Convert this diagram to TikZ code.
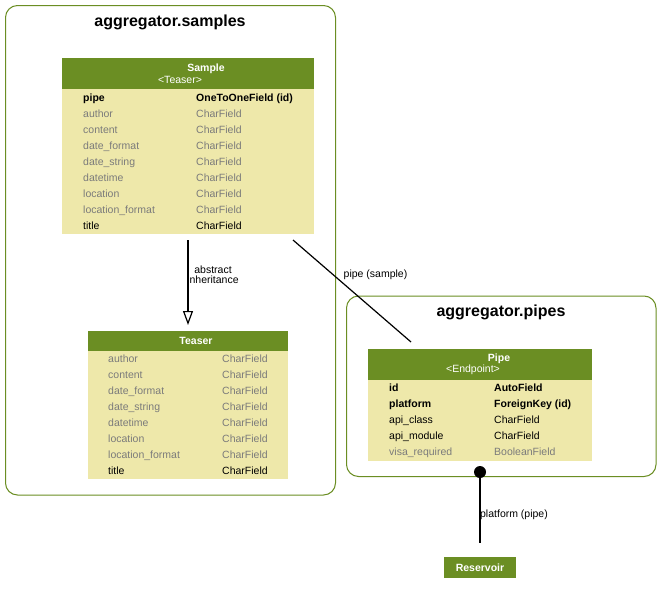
\documentclass[tikz,border=0pt]{standalone}
\usepackage{fontspec}
\setmainfont{Liberation Sans}
\usetikzlibrary{arrows.meta}
\definecolor{hdr}{HTML}{6B8E23}
\definecolor{bodyc}{HTML}{EEE8AA}
\definecolor{dim}{HTML}{7B7B7B}
\begin{document}
\begin{tikzpicture}[x=1pt,y=-1pt,
 cluster/.style={draw=hdr, line width=1pt, rounded corners=12pt},
 box/.style={inner sep=0, outer sep=0, anchor=north west},
 hdrbox/.style={box, fill=hdr},
 bodybox/.style={box, fill=bodyc},
 ctitle/.style={font=\fontsize{16}{19}\selectfont\bfseries, inner sep=0},
 htxt/.style={text=white, font=\fontsize{10.5}{12}\selectfont\bfseries, inner sep=0},
 hsub/.style={text=white, font=\fontsize{10.5}{12}\selectfont, inner sep=0},
 fld/.style={anchor=base west, inner sep=0, font=\fontsize{10.5}{12}\selectfont},
 keyf/.style={fld, font=\fontsize{10.5}{12}\selectfont\bfseries},
 grayf/.style={fld, text=dim},
 elabel/.style={font=\fontsize{10.5}{10}\selectfont, inner sep=0, align=center},
 edgeline/.style={line width=1.2pt}]

\useasboundingbox[fill=white] (0,0) rectangle (661,597);

% clusters
\draw[cluster] (5.5,5.5) rectangle (335.5,495);
\node[ctitle] (t1) at (170,22) {aggregator.samples};
\draw[cluster] (346.5,296) rectangle (656,476.5);
\node[ctitle] (t2) at (501,312) {aggregator.pipes};

% Sample
\node[hdrbox, minimum width=252pt, minimum height=31pt] (sampleh) at (62,58) {};
\node[bodybox, minimum width=252pt, minimum height=145pt] (sampleb) at (62,89) {};
\node[htxt] (sn) at (206,68.5) {Sample};
\node[hsub] (ss) at (180,79.5) {<Teaser>};
\node[keyf] (s1a) at (83,101.6) {pipe};
\node[keyf] (s1b) at (196,101.6) {OneToOneField (id)};
\node[grayf] (s2a) at (83,117.6) {author};
\node[grayf] (s2b) at (196,117.6) {CharField};
\node[grayf] (s3a) at (83,133.6) {content};
\node[grayf] (s3b) at (196,133.6) {CharField};
\node[grayf] (s4a) at (83,149.6) {date\_format};
\node[grayf] (s4b) at (196,149.6) {CharField};
\node[grayf] (s5a) at (83,165.6) {date\_string};
\node[grayf] (s5b) at (196,165.6) {CharField};
\node[grayf] (s6a) at (83,181.6) {datetime};
\node[grayf] (s6b) at (196,181.6) {CharField};
\node[grayf] (s7a) at (83,197.6) {location};
\node[grayf] (s7b) at (196,197.6) {CharField};
\node[grayf] (s8a) at (83,213.6) {location\_format};
\node[grayf] (s8b) at (196,213.6) {CharField};
\node[fld] (s9a) at (83,229.6) {title};
\node[fld] (s9b) at (196,229.6) {CharField};

% Teaser
\node[hdrbox, minimum width=200pt, minimum height=20pt] (teaserh) at (88,331) {};
\node[bodybox, minimum width=200pt, minimum height=128pt] (teaserb) at (88,351) {};
\node[htxt] (tn) at (196,340.5) {Teaser};
\node[grayf] (t1a) at (108,362.8) {author};
\node[grayf] (t1b) at (222,362.8) {CharField};
\node[grayf] (t2a) at (108,378.8) {content};
\node[grayf] (t2b) at (222,378.8) {CharField};
\node[grayf] (t3a) at (108,394.8) {date\_format};
\node[grayf] (t3b) at (222,394.8) {CharField};
\node[grayf] (t4a) at (108,410.8) {date\_string};
\node[grayf] (t4b) at (222,410.8) {CharField};
\node[grayf] (t5a) at (108,426.8) {datetime};
\node[grayf] (t5b) at (222,426.8) {CharField};
\node[grayf] (t6a) at (108,442.8) {location};
\node[grayf] (t6b) at (222,442.8) {CharField};
\node[grayf] (t7a) at (108,458.8) {location\_format};
\node[grayf] (t7b) at (222,458.8) {CharField};
\node[fld] (t8a) at (108,474.8) {title};
\node[fld] (t8b) at (222,474.8) {CharField};

% Pipe
\node[hdrbox, minimum width=224pt, minimum height=31pt] (pipeh) at (368,349) {};
\node[bodybox, minimum width=224pt, minimum height=81pt] (pipeb) at (368,380) {};
\node[htxt] (pn) at (499,358.5) {Pipe};
\node[hsub] (ps) at (473,369.5) {<Endpoint>};
\node[keyf] (p1a) at (389,391.6) {id};
\node[keyf] (p1b) at (494,391.6) {AutoField};
\node[keyf] (p2a) at (389,407.6) {platform};
\node[keyf] (p2b) at (494,407.6) {ForeignKey (id)};
\node[fld] (p3a) at (389,423.6) {api\_class};
\node[fld] (p3b) at (494,423.6) {CharField};
\node[fld] (p4a) at (389,439.6) {api\_module};
\node[fld] (p4b) at (494,439.6) {CharField};
\node[grayf] (p5a) at (389,455.6) {visa\_required};
\node[grayf] (p5b) at (494,455.6) {BooleanField};

% Reservoir
\node[hdrbox, minimum width=72pt, minimum height=21pt] (res) at (444,557) {};
\node[htxt] (rn) at (480,567.5) {Reservoir};

% edges
\draw[edgeline, shorten <=6pt, shorten >=6pt, -{Triangle[open, length=14pt, width=10pt, line width=1.2pt, fill=white]}] (sampleb.south) -- (teaserh.north);
\node[elabel] (l1) at (213,275) {abstract\\inheritance};

\coordinate (pa) at (293,240);
\coordinate (pb) at (411,342);
\draw[edgeline] (pa) -- (pb);
\node[elabel] (l2) at (375.5,274.5) {pipe (sample)};

\node[circle, fill=black, inner sep=0, minimum size=12pt] (dot) at (480,472) {};
\draw[edgeline, shorten >=14pt] (dot.center) -- (res.north);
\node[elabel] (l3) at (514,514.5) {platform (pipe)};
\end{tikzpicture}
\end{document}
